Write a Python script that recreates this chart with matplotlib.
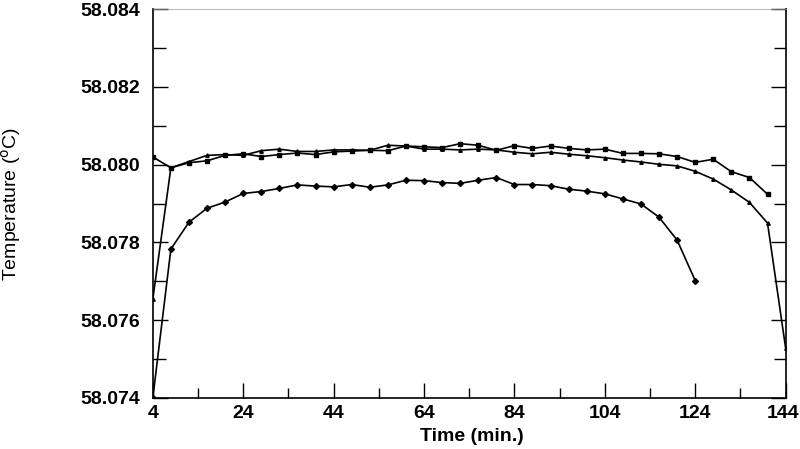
import numpy as np
import matplotlib
matplotlib.use('Agg')
import matplotlib.pyplot as plt
import matplotlib.transforms as mtransforms
from matplotlib.ticker import MultipleLocator, FixedLocator

plt.rcParams['font.family'] = ['Liberation Sans', 'DejaVu Sans']

# time in minutes (every 4 min)
t_sq = np.arange(4, 141, 4)
t_tri = np.arange(4, 145, 4)
t_dia = np.arange(4, 125, 4)

temp_sq = [58.08020, 58.07992, 58.08005, 58.08010, 58.08024, 58.08028, 58.08021, 58.08026,
           58.08030, 58.08026, 58.08033, 58.08035, 58.08037, 58.08036, 58.08048, 58.08046,
           58.08044, 58.08054, 58.08050, 58.08037, 58.08049, 58.08042, 58.08048, 58.08042,
           58.08038, 58.08040, 58.08029, 58.08029, 58.08028, 58.08021, 58.08006, 58.08014,
           58.07982, 58.07967, 58.07924]

temp_tri = [58.07654, 58.07992, 58.08008, 58.08024, 58.08026, 58.08024, 58.08036, 58.08040,
            58.08034, 58.08034, 58.08038, 58.08038, 58.08037, 58.08050, 58.08048, 58.08040,
            58.08040, 58.08038, 58.08040, 58.08038, 58.08032, 58.08028, 58.08032, 58.08027,
            58.08023, 58.08018, 58.08012, 58.08007, 58.08001, 58.07997, 58.07983, 58.07963,
            58.07935, 58.07903, 58.07850, 58.07529]

temp_dia = [58.07400, 58.07783, 58.07852, 58.07888, 58.07904, 58.07926, 58.07931, 58.07939,
            58.07948, 58.07945, 58.07943, 58.07949, 58.07942, 58.07948, 58.07960, 58.07959,
            58.07954, 58.07952, 58.07960, 58.07967, 58.07949, 58.07949, 58.07946, 58.07937,
            58.07932, 58.07925, 58.07912, 58.07899, 58.07865, 58.07806, 58.07702]

fig = plt.figure(figsize=(8, 4.49), dpi=100)
ax = fig.add_axes([0.191, 0.1136, 0.791, 0.866])

ax.plot(t_sq, temp_sq, color='black', lw=1.2, marker='s', ms=3.5)
ax.plot(t_tri, temp_tri, color='black', lw=1.2, marker='^', ms=2.5)
ax.plot(t_dia, temp_dia, color='black', lw=1.2, marker='D', ms=3)

ax.set_xlim(4, 144)
ax.set_ylim(58.074, 58.084)
ax.xaxis.set_major_locator(FixedLocator([4, 24, 44, 64, 84, 104, 124, 144]))
ax.xaxis.set_minor_locator(FixedLocator([14, 34, 54, 74, 94, 114, 134]))
ax.yaxis.set_major_locator(MultipleLocator(0.002))
ax.yaxis.set_minor_locator(MultipleLocator(0.001))
ax.yaxis.set_major_formatter(plt.FuncFormatter(lambda v, p: '%.3f' % v))

ax.tick_params(which='both', direction='in', right=True, top=False, width=1,
               labelsize=14)
ax.tick_params(which='major', length=11)
ax.tick_params(which='minor', length=9)
ax.tick_params(axis='x', which='minor', length=7)
ax.tick_params(axis='y', pad=9)
ax.tick_params(axis='x', pad=5)
for lbl in ax.get_xticklabels() + ax.get_yticklabels():
    lbl.set_fontweight('bold')

# nudge the last x label so it stays inside the figure
last = ax.get_xticklabels()[-1]
last.set_transform(last.get_transform() +
                   mtransforms.ScaledTranslation(-3 / 100, 0, fig.dpi_scale_trans))

ax.spines['top'].set_linewidth(0.5)
ax.spines['top'].set_color('#999999')
for s in ['left', 'right', 'bottom']:
    ax.spines[s].set_linewidth(1.2)

ax.set_xlabel('Time (min.)', fontsize=14, fontweight='bold')
ax.set_ylabel('Temperature ($^{\\rm o}$C)', fontsize=14)
ax.xaxis.set_label_coords(0.505, -0.078)
ax.yaxis.set_label_coords(-0.205, 0.5)

fig.savefig('out.png', dpi=100)
